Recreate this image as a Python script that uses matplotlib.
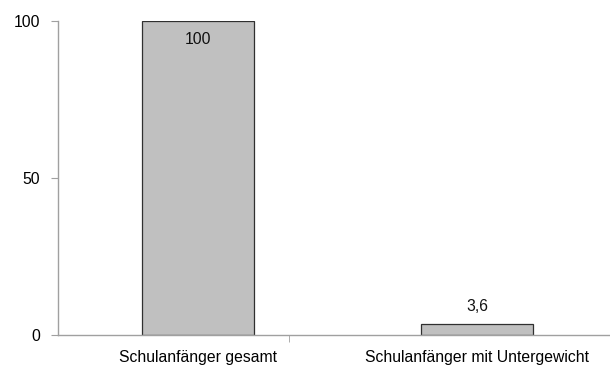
import numpy as np
import matplotlib.pyplot as plt

plt.rcParams['font.family'] = ['Liberation Sans', 'DejaVu Sans']

categories = ['Schulanfänger gesamt', 'Schulanfänger mit Untergewicht']
values = [100, 3.6]
value_labels = ['100', '3,6']
yticks = [0, 50, 100]

fig = plt.figure(figsize=(6.10, 3.69), dpi=100)
ax = fig.add_axes([0.0951, 0.092, 0.9049, 0.851])

x = np.arange(len(categories))
bars = ax.bar(x, values, width=0.40, color='#c0c0c0', edgecolor='#303030', linewidth=0.9)

for xi, v, lab in zip(x, values, value_labels):
    if v > 50:
        ax.text(xi, v - 3.5, lab, ha='center', va='top', fontsize=11.3, color='#111111')
    else:
        ax.text(xi, v + 3, lab, ha='center', va='bottom', fontsize=11.3, color='#111111')

ax.set_xlim(-0.502, 1.477)
ax.set_ylim(0, 100)
ax.set_yticks(yticks)
ax.set_xticks(x)
ax.set_xticklabels(categories)
ax.set_xticks([0.326], minor=True)
ax.tick_params(axis='x', which='major', length=0, pad=11, labelsize=11.3)
ax.tick_params(axis='x', which='minor', length=5, color='#a0a0a0', direction='out')
ax.tick_params(axis='y', length=5, color='#a0a0a0', direction='out', pad=8, labelsize=11.3)

for side in ['top', 'right']:
    ax.spines[side].set_visible(False)
for side in ['left', 'bottom']:
    ax.spines[side].set_color('#a0a0a0')
    ax.spines[side].set_linewidth(1.0)

fig.savefig('out.png', dpi=100)
